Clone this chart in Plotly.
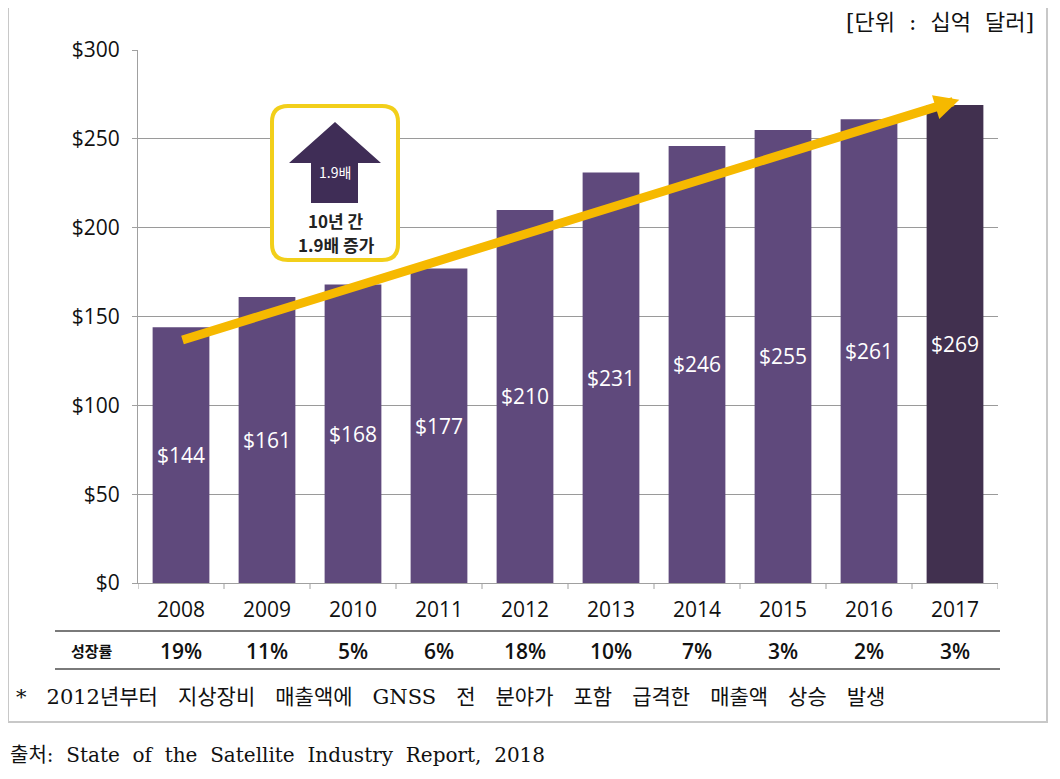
import plotly.graph_objects as go

years = ["2008", "2009", "2010", "2011", "2012", "2013", "2014", "2015", "2016", "2017"]
revenue = [144, 161, 168, 177, 210, 231, 246, 255, 261, 269]
growth = ["19%", "11%", "5%", "6%", "18%", "10%", "7%", "3%", "2%", "3%"]
y_ticks = [0, 50, 100, 150, 200, 250, 300]
y_tick_labels = ["$0", "$50", "$100", "$150", "$200", "$250", "$300"]

OFF = 8                      # page body margin in the browser
W, H = 1060 - 2 * OFF, 779 - 2 * OFF
L, R, T, B = 138, 998, 50, 583  # plot area in page pixels

def px(x):  # page pixel x -> paper
    return (x - L) / (R - L)

def py(y):  # page pixel y -> paper
    return (B - y) / (B - T)

SANS = "Open Sans, Noto Sans CJK KR, sans-serif"
KSANS = "Noto Sans CJK KR, sans-serif"
SERIF = "DejaVu Serif, Noto Sans CJK KR, serif"
SP3 = "\u00a0\u00a0\u00a0"
SP2 = "\u00a0\u00a0"

bar_colors = ["#5f497c"] * (len(years) - 1) + ["#41304f"]
xs = list(range(len(years)))

fig = go.Figure()
fig.add_trace(go.Bar(
    x=xs, y=revenue,
    marker=dict(color=bar_colors, line=dict(width=0)),
    text=["$%d" % v for v in revenue],
    textposition="inside", insidetextanchor="middle",
    textfont=dict(color="white", size=21, family=SANS),
    width=0.66, hoverinfo="skip",
))

shapes = []
annotations = []

# outer frame
shapes.append(dict(type="rect", xref="paper", yref="paper",
                   x0=px(8), x1=px(1047), y0=py(722), y1=py(7),
                   line=dict(color="#c8c8c8", width=2), layer="below"))

# table lines
for yy in (631, 669):
    shapes.append(dict(type="line", xref="paper", yref="paper",
                       x0=px(55), x1=px(1000), y0=py(yy), y1=py(yy),
                       line=dict(color="#7a7a7a", width=2)))

# x-axis boundary ticks
for i in range(len(years) + 1):
    shapes.append(dict(type="line", xref="x", yref="paper",
                       x0=i - 0.5, x1=i - 0.5, y0=py(583), y1=py(589),
                       line=dict(color="#a0a0a0", width=1)))

# rounded box for callout
bx0, bx1, by0, by1, r = 272, 398, 106, 260, 16
path = (f"M {px(bx0 + r)},{py(by0)} L {px(bx1 - r)},{py(by0)} "
        f"Q {px(bx1)},{py(by0)} {px(bx1)},{py(by0 + r)} "
        f"L {px(bx1)},{py(by1 - r)} Q {px(bx1)},{py(by1)} {px(bx1 - r)},{py(by1)} "
        f"L {px(bx0 + r)},{py(by1)} Q {px(bx0)},{py(by1)} {px(bx0)},{py(by1 - r)} "
        f"L {px(bx0)},{py(by0 + r)} Q {px(bx0)},{py(by0)} {px(bx0 + r)},{py(by0)} Z")
shapes.append(dict(type="path", xref="paper", yref="paper", path=path,
                   fillcolor="white", line=dict(color="#f2cf1a", width=4)))

# up arrow inside box
pts = [(335, 122), (381, 163), (358, 163), (358, 203), (311, 203), (311, 163), (289, 163)]
apath = "M " + " L ".join(f"{px(a)},{py(b)}" for a, b in pts) + " Z"
shapes.append(dict(type="path", xref="paper", yref="paper", path=apath,
                   fillcolor="#3f2d56", line=dict(width=0)))

annotations.append(dict(xref="paper", yref="paper", x=px(335), y=py(172),
                        xanchor="center", yanchor="middle",
                        text="1.9배", showarrow=False,
                        font=dict(color="white", size=14, family=KSANS)))
for txt, yy in (("10년 간", 220), ("1.9배 증가", 244)):
    annotations.append(dict(xref="paper", yref="paper", x=px(336), y=py(yy),
                            xanchor="center", yanchor="middle",
                            text=txt, showarrow=False,
                            font=dict(color="#222222", size=17, family=KSANS, weight=600)))

# yellow trend arrow
annotations.append(dict(x=9.05, y=272, xref="x", yref="y",
                        ax=0.0, ay=136.5, axref="x", ayref="y",
                        text="", showarrow=True, arrowhead=2, arrowsize=0.55,
                        arrowwidth=9, arrowcolor="#f6b900", standoff=0))

# growth row
annotations.append(dict(xref="paper", yref="paper", x=px(92), y=py(650),
                        xanchor="center", yanchor="middle",
                        text="<b>성장률</b>", showarrow=False,
                        font=dict(color="#111111", size=15, family=KSANS)))
for i, g in enumerate(growth):
    annotations.append(dict(xref="x", yref="paper", x=i, y=py(651),
                            xanchor="center", yanchor="middle",
                            text=g, showarrow=False,
                            font=dict(color="#111111", size=21, family=SANS, weight=600)))

# unit
annotations.append(dict(xref="paper", yref="paper", x=px(1036), y=py(22),
                        xanchor="right", yanchor="middle",
                        text=SP2.join(["[단위", ":", "십억", "달러]"]), showarrow=False,
                        font=dict(color="#111111", size=22, family=SERIF)))
# footnote
foot_words = ["*", "2012년부터", "지상장비", "매출액에", "GNSS", "전", "분야가",
              "포함", "급격한", "매출액", "상승", "발생"]
annotations.append(dict(xref="paper", yref="paper", x=px(14), y=py(697),
                        xanchor="left", yanchor="middle",
                        text=SP3.join(foot_words),
                        showarrow=False,
                        font=dict(color="#111111", size=21, family=SERIF)))
# source
source_words = ["출처:", "State", "of", "the", "Satellite", "Industry", "Report,", "2018"]
annotations.append(dict(xref="paper", yref="paper", x=px(8), y=py(755),
                        xanchor="left", yanchor="middle",
                        text=SP2.join(source_words),
                        showarrow=False,
                        font=dict(color="#111111", size=20, family=SERIF)))

fig.update_layout(
    width=W, height=H,
    margin=dict(l=L - OFF, r=W - (R - OFF), t=T - OFF, b=H - (B - OFF)),
    plot_bgcolor="white", paper_bgcolor="white",
    showlegend=False,
    xaxis=dict(range=[-0.5, len(years) - 0.5], tickvals=xs, ticktext=years,
               showgrid=False, zeroline=False, showline=True,
               linecolor="#a0a0a0", linewidth=1, ticks="", ticklen=0,
               ticklabelstandoff=8,
               tickfont=dict(size=21, color="#111111", family=SANS)),
    yaxis=dict(range=[0, 300], tickvals=y_ticks, ticktext=y_tick_labels,
               showgrid=True, gridcolor="#9a9a9a", gridwidth=1,
               zeroline=False, showline=True, linecolor="#a0a0a0", linewidth=1,
               ticks="outside", ticklen=5, tickcolor="#a0a0a0",
               ticklabelstandoff=8,
               tickfont=dict(size=21, color="#111111", family=SANS)),
    shapes=shapes, annotations=annotations,
)

fig.write_html("out.html")
